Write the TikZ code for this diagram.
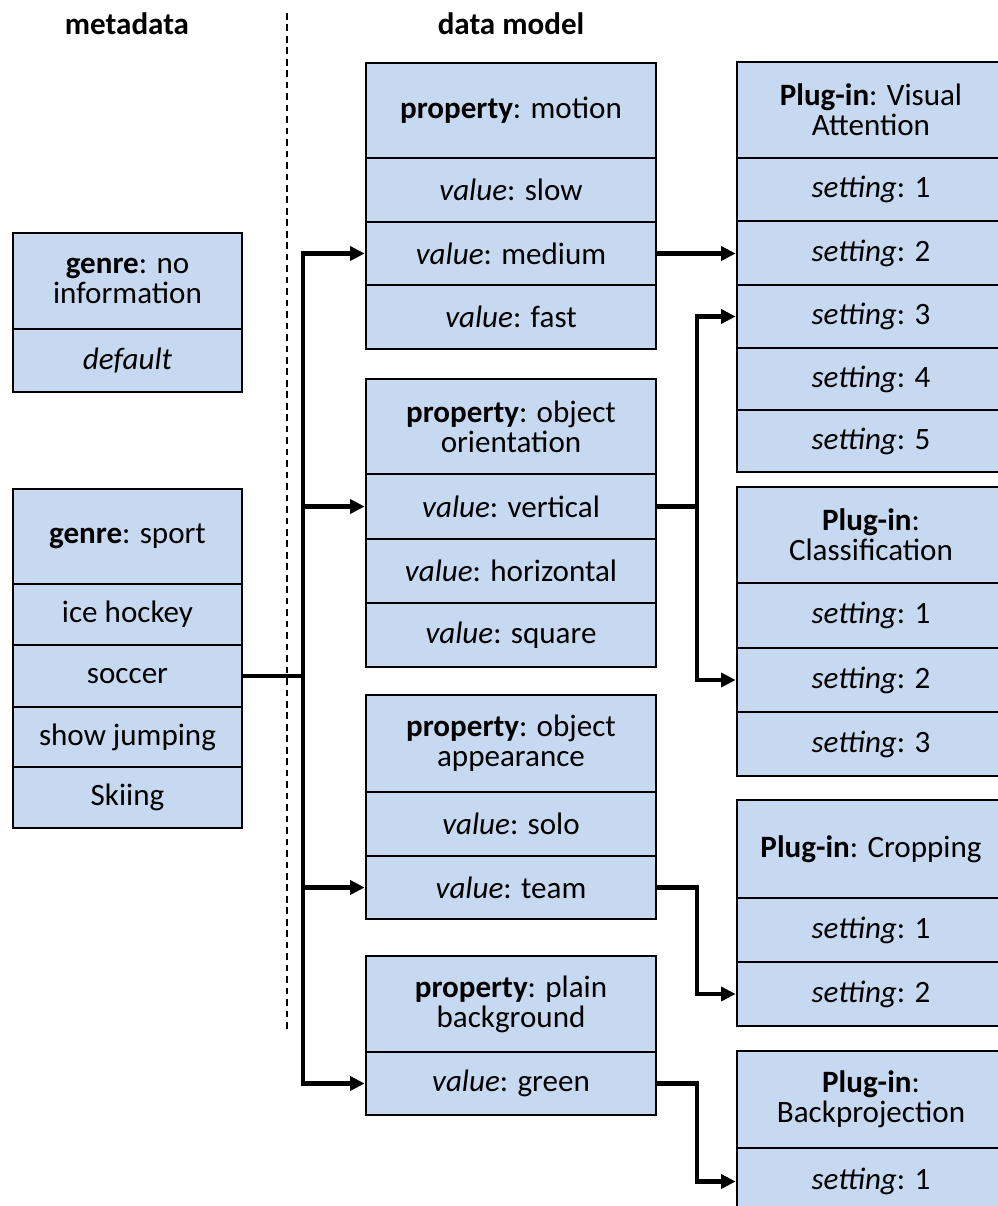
\documentclass[tikz,border=0pt]{standalone}
\usepackage{fontspec}
\setmainfont{Carlito}
\usetikzlibrary{arrows.meta}
\definecolor{cellblue}{RGB}{198,217,240}
\tikzset{
  cell/.style={draw=black, fill=cellblue, line width=2pt, inner sep=0pt,
    align=center, font=\fontsize{23.3pt}{22.5pt}\selectfont},
  link/.style={line width=3.2pt, -{Triangle[length=11pt,width=10.5pt]}},
  wire/.style={line width=3.2pt},
  divider/.style={line width=1.7pt, dash pattern=on 5pt off 3.6pt},
  heading/.style={font=\fontsize{23.3pt}{22.5pt}\selectfont\bfseries}
}
% \cellbox{name}{left}{top}{right}{bottom}{text}, all in pixel units
\newcommand\cellbox[6]{%
  \pgfmathsetmacro\cbw{(#4-#2)*0.75}%
  \pgfmathsetmacro\cbh{(#5-#3)*0.75}%
  \node[cell, minimum width=\cbw pt, minimum height=\cbh pt] (#1)
    at ({(#2+#4)/2},{(#3+#5)/2}) {#6};}
\begin{document}
\begin{tikzpicture}[x=0.75pt, y=-0.75pt]
\useasboundingbox (0,0) rectangle (998,1206);
\clip (0,0) rectangle (998,1206);

% column headings and separator
\node[heading] (meta) at (127,24) {metadata};
\node[heading] (dm) at (511,24) {data model};
\coordinate (dtop) at (287,13);
\coordinate (dbot) at (287,1032);
\draw[divider] (dtop) -- (dbot);

% metadata: genre boxes
\cellbox{gn-h}{13}{233}{242}{329}{\textbf{genre}: no\\information}
\cellbox{gn-1}{13}{329}{242}{392}{\textit{default}}

\cellbox{gs-h}{13}{489}{242}{584}{\textbf{genre}: sport}
\cellbox{gs-1}{13}{584}{242}{645}{ice hockey}
\cellbox{gs-2}{13}{645}{242}{707}{soccer}
\cellbox{gs-3}{13}{707}{242}{767}{show jumping}
\cellbox{gs-4}{13}{767}{242}{828}{Skiing}

% data model: properties
\cellbox{pm-h}{366}{63}{656}{158}{\textbf{property}: motion}
\cellbox{pm-1}{366}{158}{656}{222}{\textit{value}: slow}
\cellbox{pm-2}{366}{222}{656}{285}{\textit{value}: medium}
\cellbox{pm-3}{366}{285}{656}{349}{\textit{value}: fast}

\cellbox{po-h}{366}{379}{656}{474}{\textbf{property}: object\\orientation}
\cellbox{po-1}{366}{474}{656}{539}{\textit{value}: vertical}
\cellbox{po-2}{366}{539}{656}{603}{\textit{value}: horizontal}
\cellbox{po-3}{366}{603}{656}{667}{\textit{value}: square}

\cellbox{pa-h}{366}{695}{656}{792}{\textbf{property}: object\\appearance}
\cellbox{pa-1}{366}{792}{656}{856}{\textit{value}: solo}
\cellbox{pa-2}{366}{856}{656}{919}{\textit{value}: team}

\cellbox{pb-h}{366}{956}{656}{1052}{\textbf{property}: plain\\background}
\cellbox{pb-1}{366}{1052}{656}{1115}{\textit{value}: green}

% data model: plug-ins
\cellbox{va-h}{737}{62}{1005}{158}{\textbf{Plug-in}: Visual\\Attention}
\cellbox{va-1}{737}{158}{1005}{221}{\textit{setting}: 1}
\cellbox{va-2}{737}{221}{1005}{285}{\textit{setting}: 2}
\cellbox{va-3}{737}{285}{1005}{348}{\textit{setting}: 3}
\cellbox{va-4}{737}{348}{1005}{410}{\textit{setting}: 4}
\cellbox{va-5}{737}{410}{1005}{472}{\textit{setting}: 5}

\cellbox{cl-h}{737}{487}{1005}{583}{\textbf{Plug-in}:\\Classification}
\cellbox{cl-1}{737}{583}{1005}{648}{\textit{setting}: 1}
\cellbox{cl-2}{737}{648}{1005}{712}{\textit{setting}: 2}
\cellbox{cl-3}{737}{712}{1005}{776}{\textit{setting}: 3}

\cellbox{cr-h}{737}{800}{1005}{898}{\textbf{Plug-in}: Cropping}
\cellbox{cr-1}{737}{898}{1005}{962}{\textit{setting}: 1}
\cellbox{cr-2}{737}{962}{1005}{1026}{\textit{setting}: 2}

\cellbox{bp-h}{737}{1051}{1005}{1148}{\textbf{Plug-in}:\\Backprojection}
\cellbox{bp-1}{737}{1148}{1005}{1215}{\textit{setting}: 1}

% connector trunks
\coordinate (tk) at (303,0);
\coordinate (rk) at (697,0);

% soccer to the property values
\draw[link] (gs-2.east) -- (gs-2.east -| tk) |- (pm-2.west);
\draw[link] (gs-2.east) -- (gs-2.east -| tk) |- (po-1.west);
\draw[link] (gs-2.east) -- (gs-2.east -| tk) |- (pa-2.west);
\draw[link] (gs-2.east) -- (gs-2.east -| tk) |- (pb-1.west);

% property values to plug-in settings
\draw[link] (pm-2.east) -- (pm-2.east -| va-2.west);
\draw[link] (po-1.east) -- (po-1.east -| rk) |- (va-3.west);
\draw[link] (po-1.east) -- (po-1.east -| rk) |- (cl-2.west);
\draw[link] (pa-2.east) -- (pa-2.east -| rk) |- (cr-2.west);
\draw[link] (pb-1.east) -- (pb-1.east -| rk) |- (bp-1.west);
\end{tikzpicture}
\end{document}
